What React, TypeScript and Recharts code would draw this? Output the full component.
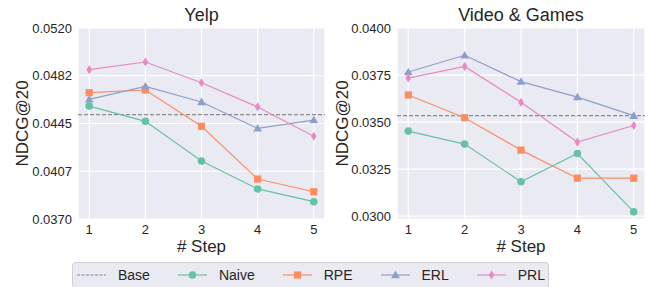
import { LineChart, Line, XAxis, YAxis, CartesianGrid, ReferenceLine } from 'recharts';

// x categories
const steps = [1, 2, 3, 4, 5];

// Yelp
const yelpNaive = [0.04587, 0.04467, 0.04156, 0.03936, 0.03836];
const yelpRPE = [0.04692, 0.04713, 0.04428, 0.04014, 0.03914];
const yelpERL = [0.0464, 0.04742, 0.04619, 0.04412, 0.04477];
const yelpPRL = [0.04873, 0.04933, 0.0477, 0.0458, 0.0435];
const yelpBase = 0.04519;
const yelpTicks = [0.037, 0.04075, 0.0445, 0.04825, 0.052];
const yelpTickLabels = ['0.0370', '0.0407', '0.0445', '0.0482', '0.0520'];

// Video & Games
const gamesNaive = [0.03452, 0.03383, 0.03183, 0.03333, 0.03023];
const gamesRPE = [0.03644, 0.03523, 0.03351, 0.03202, 0.03202];
const gamesERL = [0.03766, 0.03855, 0.03715, 0.03633, 0.03534];
const gamesPRL = [0.03734, 0.03796, 0.03605, 0.03394, 0.03482];
const gamesBase = 0.03534;
const gamesTicks = [0.03, 0.0325, 0.035, 0.0375, 0.04];
const gamesTickLabels = ['0.0300', '0.0325', '0.0350', '0.0375', '0.0400'];

const COLORS = {
    Naive: '#66c2a5',
    RPE: '#fc8d62',
    ERL: '#8da0cb',
    PRL: '#e78ac3',
};
const TEXT = '#262626';
const FONT = '"Liberation Sans", Arial, sans-serif';
const seriesNames = ['Naive', 'RPE', 'ERL', 'PRL'] as const;
type SeriesName = (typeof seriesNames)[number];

function Marker({ kind, cx, cy, color }: { kind: SeriesName; cx: number; cy: number; color: string }) {
    if (kind === 'Naive') return <circle cx={cx} cy={cy} r={3.8} fill={color} />;
    if (kind === 'RPE') return <rect x={cx - 3.6} y={cy - 3.6} width={7.2} height={7.2} fill={color} />;
    if (kind === 'ERL')
        return <polygon points={`${cx},${cy - 4.4} ${cx + 4.4},${cy + 3.2} ${cx - 4.4},${cy + 3.2}`} fill={color} />;
    return <polygon points={`${cx},${cy - 4.6} ${cx + 2.8},${cy} ${cx},${cy + 4.6} ${cx - 2.8},${cy}`} fill={color} />;
}

function makeDot(kind: SeriesName) {
    return (props: any) => {
        const { cx, cy, index } = props;
        if (cx == null || cy == null) return <g key={index} />;
        return <Marker key={`${kind}-${index}`} kind={kind} cx={cx} cy={cy} color={COLORS[kind]} />;
    };
}

interface PanelProps {
    title: string;
    left: number;
    width: number;
    rightMargin: number;
    yAxisWidth: number;
    series: Record<SeriesName, number[]>;
    base: number;
    domain: [number, number];
    ticks: number[];
    tickLabels: string[];
}

function Panel({ title, left, width, rightMargin, yAxisWidth, series, base, domain, ticks, tickLabels }: PanelProps) {
    const data = steps.map((s, i) => ({
        step: s,
        Naive: series.Naive[i],
        RPE: series.RPE[i],
        ERL: series.ERL[i],
        PRL: series.PRL[i],
    }));
    const plotLeft = yAxisWidth;
    const plotRight = width - rightMargin;

    return (
        <div style={{ position: 'absolute', left, top: 0, width, height: 256 }}>
            <div
                style={{
                    position: 'absolute',
                    left: plotLeft,
                    width: plotRight - plotLeft,
                    top: 4,
                    textAlign: 'center',
                    fontSize: 18,
                    color: TEXT,
                    fontFamily: FONT,
                    lineHeight: '22px',
                }}
            >
                {title}
            </div>
            <LineChart width={width} height={256} data={data} margin={{ top: 28, right: rightMargin, left: 0, bottom: 0 }}>
                <CartesianGrid fill="#eaeaf2" stroke="#ffffff" strokeWidth={1.2} />
                <XAxis
                    dataKey="step"
                    type="number"
                    domain={[0.8, 5.2]}
                    ticks={steps}
                    axisLine={false}
                    tickLine={false}
                    tickSize={4}
                    tickMargin={2}
                    height={37}
                    tick={{ fill: TEXT, fontSize: 13, fontFamily: FONT }}
                    label={{
                        content: (p: any) => {
                            const vb = p.viewBox;
                            return (
                                <text
                                    x={vb.x + vb.width / 2}
                                    y={246}
                                    textAnchor="middle"
                                    dominantBaseline="central"
                                    fill={TEXT}
                                    fontSize={17}
                                    fontFamily={FONT}
                                >
                                    # Step
                                </text>
                            );
                        },
                    }}
                />
                <YAxis
                    type="number"
                    domain={domain}
                    ticks={ticks}
                    allowDataOverflow
                    width={yAxisWidth}
                    axisLine={false}
                    tickLine={false}
                    tickSize={4}
                    tickMargin={2}
                    tickFormatter={(v: number) => tickLabels[ticks.indexOf(v)] ?? v.toFixed(4)}
                    tick={{ fill: TEXT, fontSize: 13, fontFamily: FONT }}
                    label={{
                        content: (p: any) => {
                            const vb = p.viewBox;
                            const cy = vb.y + vb.height / 2;
                            return (
                                <text
                                    x={22}
                                    y={cy}
                                    transform={`rotate(-90 22 ${cy})`}
                                    textAnchor="middle"
                                    dominantBaseline="central"
                                    fill={TEXT}
                                    fontSize={17}
                                    fontFamily={FONT}
                                >
                                    NDCG@20
                                </text>
                            );
                        },
                    }}
                />
                <ReferenceLine y={base} stroke="#8c8c8c" strokeDasharray="4 2" strokeWidth={1.2} />
                {seriesNames.map((name) => (
                    <Line
                        key={name}
                        dataKey={name}
                        stroke={COLORS[name]}
                        strokeWidth={1.2}
                        dot={makeDot(name)}
                        activeDot={false}
                        isAnimationActive={false}
                    />
                ))}
            </LineChart>
        </div>
    );
}

function LegendIcon({ name }: { name: string }) {
    if (name === 'Base') {
        return (
            <svg width={29} height={12}>
                <line x1={0} y1={6} x2={29} y2={6} stroke="#8c8c8c" strokeWidth={1.2} strokeDasharray="3 1.5" />
            </svg>
        );
    }
    const kind = name as SeriesName;
    return (
        <svg width={29} height={12}>
            <line x1={0} y1={6} x2={29} y2={6} stroke={COLORS[kind]} strokeWidth={1.2} />
            <Marker kind={kind} cx={14.5} cy={6} color={COLORS[kind]} />
        </svg>
    );
}

const legendNames = ['Base', 'Naive', 'RPE', 'ERL', 'PRL'];

export default function App() {
    return (
        <div style={{ position: 'absolute', left: 0, top: 0, width: 654, height: 287, background: '#fff', overflow: 'hidden' }}>
            <Panel
                title="Yelp"
                left={0}
                width={330}
                rightMargin={5}
                yAxisWidth={78}
                series={{ Naive: yelpNaive, RPE: yelpRPE, ERL: yelpERL, PRL: yelpPRL }}
                base={yelpBase}
                domain={[0.037, 0.052]}
                ticks={yelpTicks}
                tickLabels={yelpTickLabels}
            />
            <Panel
                title="Video & Games"
                left={320}
                width={334}
                rightMargin={9}
                yAxisWidth={77}
                series={{ Naive: gamesNaive, RPE: gamesRPE, ERL: gamesERL, PRL: gamesPRL }}
                base={gamesBase}
                domain={[0.02985, 0.04]}
                ticks={gamesTicks}
                tickLabels={gamesTickLabels}
            />
            {/* Legend */}
            <div
                style={{
                    position: 'absolute',
                    left: 72,
                    top: 262,
                    width: 477,
                    height: 27,
                    background: '#eaeaf2',
                    border: '1px solid #d0d0d0',
                    borderRadius: 4,
                    display: 'flex',
                    alignItems: 'center',
                    paddingLeft: 4,
                    paddingBottom: 2,
                    gap: 28,
                    boxSizing: 'border-box',
                    fontFamily: FONT,
                    fontSize: 14,
                    color: TEXT,
                }}
            >
                {legendNames.map((name) => (
                    <div key={name} style={{ display: 'flex', alignItems: 'center', gap: 12 }}>
                        <LegendIcon name={name} />
                        <span>{name}</span>
                    </div>
                ))}
            </div>
        </div>
    );
}
